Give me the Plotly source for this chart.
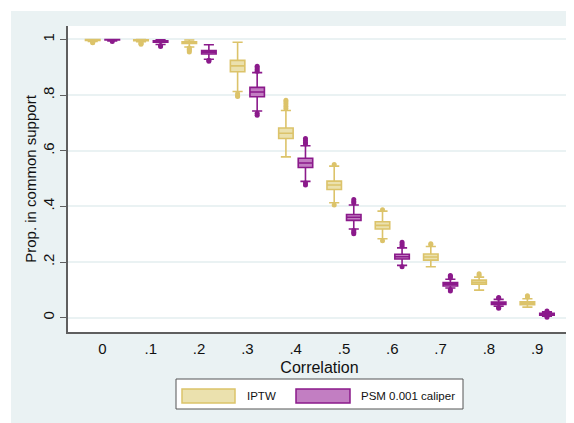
import plotly.graph_objects as go

# ---------------- data ----------------
categories = ["0", ".1", ".2", ".3", ".4", ".5", ".6", ".7", ".8", ".9"]

iptw_q1 = [0.997, 0.996, 0.986, 0.884, 0.644, 0.461, 0.319, 0.207, 0.120, 0.047]
iptw_med = [0.999, 0.998, 0.990, 0.905, 0.663, 0.477, 0.332, 0.218, 0.127, 0.052]
iptw_q3 = [1.000, 0.999, 0.992, 0.925, 0.682, 0.491, 0.345, 0.229, 0.135, 0.057]
iptw_lo = [0.993, 0.992, 0.973, 0.813, 0.578, 0.413, 0.284, 0.183, 0.099, 0.038]
iptw_hi = [1.000, 1.000, 0.998, 0.990, 0.745, 0.545, 0.383, 0.256, 0.146, 0.068]
iptw_out = [
    [0.990, 0.988],
    [0.989, 0.986, 0.983],
    [0.969, 0.965, 0.960, 0.955],
    [0.805, 0.798, 0.795],
    [0.752, 0.760, 0.768, 0.775, 0.782],
    [0.551, 0.405],
    [0.388, 0.277],
    [0.262, 0.266],
    [0.152, 0.158],
    [0.074, 0.079],
]

psm_q1 = [0.998, 0.990, 0.948, 0.794, 0.540, 0.350, 0.211, 0.114, 0.048, 0.009]
psm_med = [0.999, 0.993, 0.954, 0.811, 0.556, 0.361, 0.219, 0.120, 0.052, 0.012]
psm_q3 = [1.000, 0.995, 0.960, 0.828, 0.573, 0.371, 0.228, 0.126, 0.056, 0.016]
psm_lo = [0.995, 0.982, 0.929, 0.743, 0.490, 0.319, 0.188, 0.107, 0.041, 0.005]
psm_hi = [1.000, 0.999, 0.981, 0.881, 0.618, 0.405, 0.251, 0.138, 0.066, 0.021]
psm_out = [
    [0.993],
    [0.978, 0.975],
    [0.925, 0.922],
    [0.886, 0.892, 0.898, 0.904, 0.735, 0.728],
    [0.624, 0.630, 0.637, 0.644, 0.484, 0.477],
    [0.412, 0.418, 0.425, 0.313, 0.307, 0.302],
    [0.257, 0.264, 0.271, 0.183],
    [0.143, 0.148, 0.152, 0.101, 0.096],
    [0.070, 0.073, 0.037, 0.034],
    [0.024, 0.002],
]

series_names = ["IPTW", "PSM 0.001 caliper"]
y_tickvals = [0, 0.2, 0.4, 0.6, 0.8, 1]
y_ticktext = ["0", ".2", ".4", ".6", ".8", "1"]

# ---------------- style ----------------
BG = "#EAF2F3"
IPTW_LINE = "#DCC36A"
IPTW_FILL = "#EBE1AE"
PSM_LINE = "#8B1A8B"
PSM_FILL = "#C27EC2"
AXIS = "#5F5F5F"
FONT = "Liberation Sans, Arial, sans-serif"

OFF = 8  # page body margin offset of the figure inside the browser window
W, H = 574 - OFF, 423 - OFF
ML, MR, MT, MB = 68 - OFF, 3, 26 - OFF, 91
PW = W - ML - MR
PH = H - MT - MB


def px_x(px):
    # window pixel -> paper coordinate
    return (px - OFF - ML) / PW


def px_y(py):
    return (H - MB - (py - OFF)) / PH


fig = go.Figure()

for name, q1, med, q3, lo, hi, out, lc, fc in [
    (series_names[0], iptw_q1, iptw_med, iptw_q3, iptw_lo, iptw_hi, iptw_out, IPTW_LINE, IPTW_FILL),
    (series_names[1], psm_q1, psm_med, psm_q3, psm_lo, psm_hi, psm_out, PSM_LINE, PSM_FILL),
]:
    fig.add_trace(go.Box(
        name=name,
        x=categories,
        y=out,
        q1=q1, median=med, q3=q3,
        lowerfence=lo, upperfence=hi,
        boxpoints="outliers",
        jitter=0, pointpos=0,
        marker=dict(color=lc, size=5, line=dict(width=0)),
        line=dict(color=lc, width=1.6),
        fillcolor=fc,
        whiskerwidth=0.7,
        showlegend=False,
    ))

shapes = []
# white outer strips (figure frame outside the light panel)
shapes.append(dict(type="rect", xref="paper", yref="paper", layer="above",
                   x0=px_x(OFF), x1=px_x(11), y0=px_y(OFF + H), y1=px_y(OFF),
                   fillcolor="white", line=dict(width=0)))
shapes.append(dict(type="rect", xref="paper", yref="paper", layer="above",
                   x0=px_x(OFF), x1=px_x(OFF + W), y0=px_y(11), y1=px_y(OFF),
                   fillcolor="white", line=dict(width=0)))
shapes.append(dict(type="rect", xref="paper", yref="paper", layer="above",
                   x0=px_x(573), x1=px_x(OFF + W), y0=px_y(OFF + H), y1=px_y(OFF),
                   fillcolor="white", line=dict(width=0)))
# manual legend
shapes.append(dict(type="rect", xref="paper", yref="paper", layer="above",
                   x0=px_x(176), x1=px_x(463), y0=px_y(409), y1=px_y(379),
                   fillcolor="white", line=dict(color="#555555", width=1)))
shapes.append(dict(type="rect", xref="paper", yref="paper", layer="above",
                   x0=px_x(182), x1=px_x(235), y0=px_y(403), y1=px_y(389),
                   fillcolor=IPTW_FILL, line=dict(color=IPTW_LINE, width=1.5)))
shapes.append(dict(type="rect", xref="paper", yref="paper", layer="above",
                   x0=px_x(296), x1=px_x(350), y0=px_y(403), y1=px_y(389),
                   fillcolor=PSM_FILL, line=dict(color=PSM_LINE, width=1.5)))

annotations = [
    dict(text=series_names[0], xref="paper", yref="paper", x=px_x(245), y=px_y(396),
         xanchor="left", yanchor="middle", showarrow=False,
         font=dict(family=FONT, size=11.5, color="#111111")),
    dict(text=series_names[1], xref="paper", yref="paper", x=px_x(359), y=px_y(396),
         xanchor="left", yanchor="middle", showarrow=False,
         font=dict(family=FONT, size=11.5, color="#111111")),
]

fig.update_layout(
    width=W, height=H,
    margin=dict(l=ML, r=MR, t=MT, b=MB, pad=0, autoexpand=False),
    paper_bgcolor=BG, plot_bgcolor="white",
    boxmode="group", boxgap=0.19, boxgroupgap=0.26,
    font=dict(family=FONT, color="#111111"),
    shapes=shapes, annotations=annotations,
    showlegend=False,
    xaxis=dict(
        type="category", range=[-0.714, 9.70], automargin=False,
        showgrid=False, zeroline=False,
        showline=True, linecolor=AXIS, linewidth=1.5,
        ticks="outside", ticklen=2, tickcolor="rgba(0,0,0,0)",
        tickfont=dict(size=15, family=FONT, color="#111111"),
        title=dict(text="Correlation", font=dict(size=16, family=FONT, color="#111111"), standoff=6),
    ),
    yaxis=dict(
        range=[-0.0514, 1.0485], automargin=False,
        tickvals=y_tickvals, ticktext=y_ticktext, tickangle=-90,
        showgrid=True, gridcolor=BG, gridwidth=1.5,
        zeroline=False,
        showline=True, linecolor=AXIS, linewidth=1.5,
        ticks="outside", ticklen=6, tickcolor=AXIS, tickwidth=1.2,
        tickfont=dict(size=15, family=FONT, color="#111111"),
        title=dict(text="Prop. in common support", font=dict(size=15, family=FONT, color="#111111"), standoff=0),
    ),
)

fig.write_html("out.html")
